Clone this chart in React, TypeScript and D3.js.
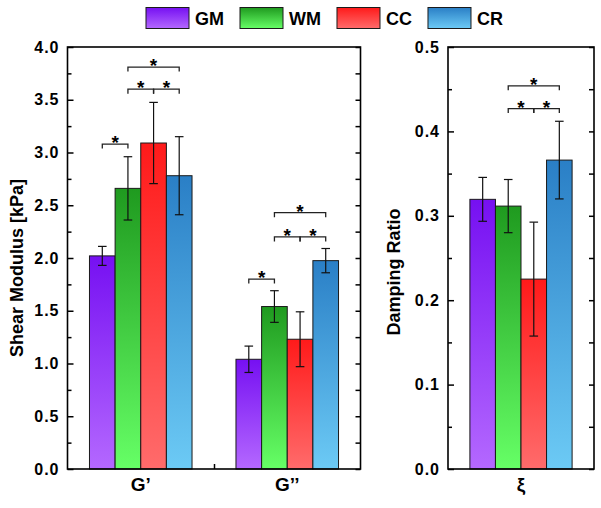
import * as d3 from "d3";
import { useEffect, useRef } from "react";

const series = ["GM", "WM", "CC", "CR"];
// [top, bottom] gradient colours per series
const seriesColors: [string, string][] = [
  ["#7610f2", "#b468ff"],
  ["#1f9a1f", "#66ff66"],
  ["#ff1a1a", "#ff6b6b"],
  ["#2a7fc6", "#6ccaf5"],
];

const modulusCategories = ["G’", "G’’"];
const gPrimeMeans = [2.02, 2.66, 3.09, 2.78];
const gPrimeErrors = [0.09, 0.3, 0.385, 0.37];
const gDoublePrimeMeans = [1.04, 1.54, 1.23, 1.975];
const gDoublePrimeErrors = [0.125, 0.15, 0.26, 0.115];
const modulusTicks = [0, 0.5, 1.0, 1.5, 2.0, 2.5, 3.0, 3.5, 4.0];
const modulusMinorTicks = [0.25, 0.75, 1.25, 1.75, 2.25, 2.75, 3.25, 3.75];

const dampingCategories = ["ξ"];
const dampingMeans = [0.3195, 0.3115, 0.225, 0.366];
const dampingErrors = [0.026, 0.0315, 0.0675, 0.046];
const dampingTicks = [0, 0.1, 0.2, 0.3, 0.4, 0.5];
const dampingMinorTicks = [0.05, 0.15, 0.25, 0.35, 0.45];

// significance brackets: category index, from series, to series, height
const modulusBrackets = [
  { cat: 0, from: 0, to: 1, y: 3.08 },
  { cat: 0, from: 1, to: 2, y: 3.6 },
  { cat: 0, from: 2, to: 3, y: 3.6 },
  { cat: 0, from: 1, to: 3, y: 3.81 },
  { cat: 1, from: 0, to: 1, y: 1.8 },
  { cat: 1, from: 1, to: 2, y: 2.2 },
  { cat: 1, from: 2, to: 3, y: 2.2 },
  { cat: 1, from: 1, to: 3, y: 2.43 },
];
const dampingBrackets = [
  { cat: 0, from: 1, to: 2, y: 0.427 },
  { cat: 0, from: 2, to: 3, y: 0.427 },
  { cat: 0, from: 1, to: 3, y: 0.454 },
];

const FONT = "'Liberation Sans', Arial, sans-serif";
const groupW = 0.7;
const barW = groupW / series.length;

interface PanelCfg {
  x0: number;
  x1: number;
  y0: number;
  y1: number;
  cats: string[];
  means: number[][];
  errs: number[][];
  yMax: number;
  ticks: number[];
  minor: number[];
  brackets: { cat: number; from: number; to: number; y: number }[];
  title: string;
  titleX: number;
  titleY: number;
}

function drawPanel(svg: d3.Selection<SVGSVGElement, unknown, null, undefined>, cfg: PanelCfg) {
  const { x0, x1, y0, y1, cats, means, errs } = cfg;
  const x = d3.scaleLinear().domain([0.5, cats.length + 0.5]).range([x0, x1]);
  const y = d3.scaleLinear().domain([0, cfg.yMax]).range([y1, y0]);
  const g = svg.append("g");

  const rows = cats.flatMap((_, ci) =>
    series.map((_, si) => ({ ci, si, mean: means[ci][si], err: errs[ci][si] })),
  );
  const barLeft = (ci: number, si: number) => ci + 1 - groupW / 2 + si * barW;
  const barMid = (ci: number, si: number) => barLeft(ci, si) + barW / 2;

  g.selectAll("rect.bar")
    .data(rows)
    .join("rect")
    .attr("class", "bar")
    .attr("x", (d) => x(barLeft(d.ci, d.si)))
    .attr("width", x(barW) - x(0))
    .attr("y", (d) => y(d.mean))
    .attr("height", (d) => y(0) - y(d.mean))
    .attr("fill", (d) => `url(#grad-${d.si})`)
    .attr("stroke", "#1a1a1a")
    .attr("stroke-width", 1);

  // error bars
  const eb = g.selectAll("g.err").data(rows).join("g").attr("class", "err")
    .attr("stroke", "#111").attr("stroke-width", 1.2);
  eb.append("line")
    .attr("x1", (d) => x(barMid(d.ci, d.si)))
    .attr("x2", (d) => x(barMid(d.ci, d.si)))
    .attr("y1", (d) => y(d.mean + d.err))
    .attr("y2", (d) => y(d.mean - d.err));
  eb.append("line")
    .attr("x1", (d) => x(barMid(d.ci, d.si)) - 4.3)
    .attr("x2", (d) => x(barMid(d.ci, d.si)) + 4.3)
    .attr("y1", (d) => y(d.mean + d.err))
    .attr("y2", (d) => y(d.mean + d.err));
  eb.append("line")
    .attr("x1", (d) => x(barMid(d.ci, d.si)) - 4.3)
    .attr("x2", (d) => x(barMid(d.ci, d.si)) + 4.3)
    .attr("y1", (d) => y(d.mean - d.err))
    .attr("y2", (d) => y(d.mean - d.err));

  // axes (ticks inward)
  const styleAxis = (sel: d3.Selection<SVGGElement, unknown, null, undefined>) => {
    sel.select(".domain").remove();
    sel.selectAll(".tick line").attr("stroke", "#000").attr("stroke-width", 1.5);
    sel.selectAll("text")
      .attr("fill", "#000")
      .style("font-family", FONT)
      .style("font-size", "16px")
      .style("font-weight", "bold")
      .style("letter-spacing", "1px");
  };
  g.append("g")
    .attr("transform", `translate(${x0},0)`)
    .call(d3.axisLeft(y).tickValues(cfg.ticks).tickSize(-6).tickPadding(8).tickFormat(d3.format(".1f")))
    .call(styleAxis);
  g.append("g")
    .attr("transform", `translate(${x0},0)`)
    .call(d3.axisLeft(y).tickValues(cfg.minor).tickSize(-4).tickFormat(() => ""))
    .call(styleAxis);
  g.append("g")
    .attr("transform", `translate(${x1},0)`)
    .call(d3.axisRight(y).tickValues([...cfg.ticks, ...cfg.minor]).tickSize(-5).tickFormat(() => ""))
    .call(styleAxis);
  if (cats.length > 1) {
    g.append("g")
      .attr("transform", `translate(0,${y1})`)
      .call(d3.axisBottom(x).tickValues(d3.range(1.5, cats.length, 1)).tickSize(-5).tickFormat(() => ""))
      .call(styleAxis);
  }

  // frame
  g.append("rect")
    .attr("x", x0)
    .attr("y", y0)
    .attr("width", x1 - x0)
    .attr("height", y1 - y0)
    .attr("fill", "none")
    .attr("stroke", "#000")
    .attr("stroke-width", 1.6);

  // category labels
  g.selectAll("text.cat")
    .data(cats)
    .join("text")
    .attr("class", "cat")
    .attr("x", (_, i) => x(i + 1))
    .attr("y", y1 + 22)
    .attr("text-anchor", "middle")
    .style("font-family", FONT)
    .style("font-size", "19px")
    .style("font-weight", "bold")
    .text((d) => d);

  // significance brackets
  const br = g.selectAll("g.br").data(cfg.brackets).join("g").attr("class", "br");
  br.append("path")
    .attr("d", (d) => {
      const xa = x(barMid(d.cat, d.from));
      const xb = x(barMid(d.cat, d.to));
      const yy = y(d.y);
      return `M${xa},${yy + 4.5}V${yy}H${xb}V${yy + 4.5}`;
    })
    .attr("fill", "none")
    .attr("stroke", "#222")
    .attr("stroke-width", 1.3);
  br.append("text")
    .attr("x", (d) => (x(barMid(d.cat, d.from)) + x(barMid(d.cat, d.to))) / 2)
    .attr("y", (d) => y(d.y) + 5)
    .attr("text-anchor", "middle")
    .style("font-family", FONT)
    .style("font-size", "19px")
    .style("font-weight", "bold")
    .text("*");

  // axis title
  svg.append("text")
    .attr("transform", `translate(${cfg.titleX},${cfg.titleY}) rotate(-90)`)
    .attr("text-anchor", "middle")
    .style("font-family", FONT)
    .style("font-size", "18px")
    .style("font-weight", "bold")
    .text(cfg.title);
}

export default function App() {
  const svgRef = useRef<SVGSVGElement>(null);

  useEffect(() => {
    if (!svgRef.current) return;
    const svg = d3.select(svgRef.current);
    svg.selectAll("*").remove();

    const defs = svg.append("defs");
    seriesColors.forEach(([top, bottom], i) => {
      const lg = defs.append("linearGradient")
        .attr("id", `grad-${i}`)
        .attr("x1", 0).attr("y1", 0).attr("x2", 0).attr("y2", 1);
      lg.append("stop").attr("offset", "0%").attr("stop-color", top);
      lg.append("stop").attr("offset", "100%").attr("stop-color", bottom);
    });

    drawPanel(svg, {
      x0: 67.5, x1: 360.5, y0: 47, y1: 469,
      cats: modulusCategories,
      means: [gPrimeMeans, gDoublePrimeMeans],
      errs: [gPrimeErrors, gDoublePrimeErrors],
      yMax: 4,
      ticks: modulusTicks,
      minor: modulusMinorTicks,
      brackets: modulusBrackets,
      title: "Shear Modulus [kPa]",
      titleX: 23,
      titleY: 268,
    });
    drawPanel(svg, {
      x0: 448, x1: 594, y0: 47, y1: 469,
      cats: dampingCategories,
      means: [dampingMeans],
      errs: [dampingErrors],
      yMax: 0.5,
      ticks: dampingTicks,
      minor: dampingMinorTicks,
      brackets: dampingBrackets,
      title: "Damping Ratio",
      titleX: 400,
      titleY: 272,
    });

    // legend laid out left to right
    const legend = svg.append("g");
    let lx = 146;
    series.forEach((name, i) => {
      legend.append("rect")
        .attr("x", lx).attr("y", 7.5).attr("width", 43).attr("height", 21)
        .attr("fill", `url(#grad-${i})`).attr("stroke", "#1a1a1a").attr("stroke-width", 1);
      const t = legend.append("text")
        .attr("x", lx + 49).attr("y", 25)
        .style("font-family", FONT).style("font-size", "18px").style("font-weight", "bold")
        .text(name);
      const w = (t.node() as SVGTextElement).getComputedTextLength();
      lx += 49 + w + 16;
    });
  }, []);

  return (
    <svg
      ref={svgRef}
      width={601}
      height={508}
      style={{ position: "absolute", left: 0, top: 0, background: "#fff" }}
    />
  );
}
